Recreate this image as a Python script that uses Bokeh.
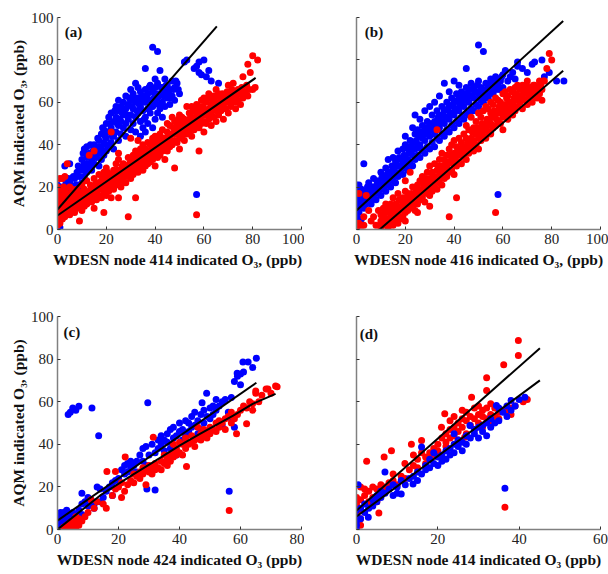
from bokeh.plotting import figure
from bokeh.layouts import gridplot
from bokeh.models import Range1d, FixedTicker
from bokeh.core.properties import value
from bokeh.embed import file_html
from bokeh.resources import INLINE

# ---------------- data ----------------
a_blue = [(0,0),(0,2),(0,4),(0,6),(0,9),(0,12),(0,15),(0,18),(0,21),(1,1),(1,5),(1,10),(1,14),(1,17),(2,8),(2,13),(2,20),(0,3),
          (3,12),(3,16),(3,30),(4,14),(4,19),(5,31),(5,17),(5,22),(6,15),(6,20),(7,18),(7,24),(8,21),(8,27),(9,19),(9,25),
          (10,22),(10,28),(10,33),(11,25),(11,31),(11,38),(12,27),(12,34),(12,39),(13,30),(13,36),(14,28),(14,33),(15,31),(15,38),(15,40),
          (16,34),(16,39),(17,30),(17,36),(17,42),(18,33),(18,38),(18,45),(19,35),(19,41),(19,47),(20,37),(20,43),(20,50),(20,40),
          (21,39),(21,46),(21,53),(22,41),(22,48),(22,55),(23,38),(23,44),(23,51),(24,46),(24,53),(24,58),(25,42),(25,49),(25,56),(25,61),
          (26,45),(26,51),(26,58),(27,48),(27,54),(27,60),(28,44),(28,50),(28,57),(28,63),(29,52),(29,59),(30,47),(30,54),(30,61),(30,66),
          (31,50),(31,57),(31,64),(32,69),(32,46),(32,53),(32,60),(33,55),(33,62),(33,67),(34,44),(34,51),(34,58),(34,65),(35,48),(35,56),(35,63),
          (36,76),(36,46),(36,53),(36,60),(36,66),(37,50),(37,57),(37,64),(38,55),(38,61),(38,68),(39,86),(39,48),(39,58),(39,65),(40,52),(40,60),(40,67),(40,71),
          (41,84),(41,55),(41,62),(41,69),(42,57),(42,64),(42,75),(43,53),(43,60),(43,67),(44,58),(44,65),(44,71),(45,62),(45,68),(46,59),(46,66),
          (47,63),(47,70),(48,61),(48,67),(49,69),(50,64),
          (52,79),(53,80),(56,76),(57,77),(58,79),(60,80),(59,73),(61,72),(63,70),(66,69),(62,75),(57,16.5),(58,74),
          (0.5,8),(1.5,12),(0.5,16),(2.5,16),(3.5,22),(4.5,24),(6.5,25),(7.5,21),(8.5,30),(9.5,29),(10.5,36),(11.5,28),(12.5,31),
          (13.5,40),(14.5,37),(15.5,35),(16.5,43),(17.5,39),(18.5,48),(19.5,44),(20.5,46),(21.5,50),(22.5,44),(23.5,56),(24.5,50),
          (25.5,52),(26.5,55),(27.5,57),(28.5,54),(29.5,62),(30.5,58),(31.5,61),(32.5,56),(33.5,59),(34.5,61),(35.5,52),(36.5,63),
          (37.5,67),(38.5,58),(39.5,62),(40.5,64),(41.5,59),(42.5,67),(43.5,63),(44.5,68),(45.5,65),(46.5,62),(47.5,66),(48.5,70),(49.5,66)]
a_red = [(0,2),(0,5),(0,8),(0,11),(0,14),(0,17),(1,3),(1,7),(1,10),(1,13),(1,19),(2,5),(2,9),(2,12),(2,16),(0,20),(1,24),(2,24),
         (3,6),(3,10),(3,14),(4,8),(4,12),(4,17),(5,7),(5,11),(5,15),(6,9),(6,13),(6,19),(3,25),(4,31),(5,20),(3,18),
         (7,8),(7,12),(7,16),(8,10),(8,14),(8,19),(9,4),(9,12),(9,17),(10,9),(10,13),(10,16),(10,21),
         (11,11),(11,15),(11,19),(12,12),(12,17),(12,23),(13,14),(13,18),(13,35),(14,13),(14,16),(14,20),(15,10),(15,15),(15,19),(15,24),(15,37),
         (16,14),(16,18),(16,22),(17,16),(17,20),(17,26),(18,15),(18,19),(18,23),(19,8),(19,17),(19,21),(19,27),(20,16),(20,20),(20,24),(20,29),
         (21,18),(21,22),(21,26),(22,15),(22,20),(22,24),(22,46),(23,19),(23,23),(23,28),(24,21),(24,25),(24,31),(25,15),(25,22),(25,26),(25,36),(25,33),
         (26,20),(26,24),(26,28),(27,23),(27,27),(27,31),(28,22),(28,26),(28,30),(29,6),(29,25),(29,29),(29,34),(30,24),(30,28),(30,32),(30,43),
         (31,26),(31,30),(31,35),(32,15),(32,28),(32,32),(32,37),(33,27),(33,31),(33,42),(34,29),(34,33),(34,38),(35,28),(35,32),(35,36),(35,40),
         (36,30),(36,34),(36,38),(37,31),(37,35),(37,41),(38,32),(38,36),(38,40),(39,33),(39,38),(39,43),(40,30),(40,35),(40,39),(40,44),
         (41,34),(41,38),(41,42),(42,35),(42,40),(42,45),(43,37),(43,41),(43,47),(44,33),(44,38),(44,43),(45,37),(45,41),(45,46),(45,50),
         (46,39),(46,44),(46,49),(47,40),(47,45),(47,53),(48,29),(48,42),(48,47),(48,51),(49,41),(49,46),(49,50),(50,38),(50,43),(50,48),(50,54),
         (51,44),(51,49),(51,53),(52,42),(52,47),(52,52),(53,45),(53,50),(53,58),(54,46),(54,51),(54,55),(55,44),(55,49),(55,53),(55,58),
         (56,47),(56,52),(56,57),(57,7),(57,49),(57,54),(57,59),(58,37),(58,48),(58,53),(58,58),(59,50),(59,55),(59,61),(60,46),(60,51),(60,56),(60,62),
         (61,50),(61,55),(61,60),(62,52),(62,57),(62,64),(63,49),(63,54),(63,59),(64,53),(64,58),(64,63),(65,51),(65,56),(65,60),(65,66),
         (66,54),(66,59),(66,64),(67,56),(67,61),(68,52),(68,58),(68,63),(69,57),(69,62),(70,55),(70,60),(70,68),(71,58),(71,64),(72,69),
         (72,60),(73,57),(73,63),(74,61),(74,66),(75,59),(75,64),(76,62),(76,72),(77,65),(78,63),(78,78),(79,74),(80,82),(82,80),(80,66),(81,67),
         (0.5,6),(1.5,15),(2.5,20),(3.5,12),(4.5,10),(5.5,17),(6.5,11),(7.5,14),(8.5,16),(9.5,11),(10.5,18),(11.5,13),(12.5,15),
         (13.5,21),(14.5,18),(15.5,21),(16.5,16),(17.5,22),(18.5,25),(19.5,19),(20.5,27),(21.5,20),(22.5,26),(23.5,21),(24.5,28),
         (25.5,24),(26.5,30),(27.5,25),(28.5,28),(29.5,31),(30.5,26),(31.5,33),(32.5,30),(33.5,35),(34.5,31),(35.5,38),(36.5,32),
         (37.5,37),(38.5,34),(39.5,41),(40.5,37),(41.5,44),(42.5,38),(43.5,43),(44.5,40),(45.5,44),(46.5,42),(47.5,48),(48.5,45),
         (49.5,52),(50.5,46),(51.5,51),(52.5,50),(53.5,48),(54.5,53),(55.5,56),(56.5,50),(57.5,57),(58.5,52),(59.5,58),(60.5,54),
         (61.5,62),(62.5,55),(63.5,61),(64.5,57),(65.5,63),(66.5,57),(67.5,64),(68.5,60),(69.5,65),(70.5,62),(71.5,66),(72.5,63),
         (73.5,60),(74.5,64),(75.5,67),(76.5,65),(77.5,68),(78.5,66)]
a_blue_fit = [(0,9.4),(65.3,95.8)]
a_red_fit = [(0,6.6),(81.2,71.5)]

b_blue = [(0,0),(0,3),(0,6),(0,9),(0,12),(0,15),(0,18),(0,21),(1,2),(1,8),(1,13),(1,17),(2,5),(2,11),(2,15),(1,21),(2,19),
          (3,10),(3,14),(3,18),(3,31),(4,12),(4,16),(5,13),(5,18),(5,22),(6,12),(6,17),(7,15),(7,20),(7,24),(8,14),(8,19),(9,17),(9,23),
          (10,16),(10,21),(10,27),(11,19),(11,24),(12,18),(12,23),(12,29),(13,21),(13,27),(13,33),(14,20),(14,25),(15,23),(15,28),(15,34),
          (16,22),(16,27),(16,32),(17,25),(17,30),(17,37),(18,27),(18,33),(19,26),(19,31),(19,38),(20,29),(20,34),(20,40),(20,44),
          (21,28),(21,33),(21,39),(22,31),(22,36),(22,42),(23,30),(23,35),(23,41),(23,48),(24,33),(24,38),(24,45),(24,54),(25,35),(25,40),(25,47),
          (26,34),(26,40),(26,46),(26,52),(27,37),(27,43),(27,49),(28,36),(28,42),(28,48),(28,56),(29,39),(29,45),(29,51),(30,38),(30,44),(30,50),(30,58),
          (31,41),(31,47),(31,54),(32,39),(32,45),(32,51),(32,60),(33,43),(33,49),(33,56),(34,42),(34,48),(34,54),(34,63),(35,45),(35,51),(35,58),
          (36,44),(36,50),(36,56),(36,69),(37,47),(37,53),(37,60),(38,46),(38,52),(38,58),(38,65),(39,49),(39,55),(39,62),(40,48),(40,54),(40,60),(40,70),
          (41,51),(41,57),(41,64),(42,50),(42,56),(42,62),(42,68),(43,53),(43,59),(43,65),(44,52),(44,58),(44,64),(45,55),(45,61),(45,67),(45,76),
          (46,54),(46,60),(46,66),(47,57),(47,63),(47,69),(48,56),(48,62),(48,67),(49,59),(49,65),(50,58),(50,64),(50,70),(50,87),
          (51,61),(51,67),(52,60),(52,66),(52,84),(53,63),(53,69),(54,62),(54,68),(55,46),(55,65),(55,71),(56,64),(56,69),(57,66),(57,72),
          (58,16.5),(58,68),(59,70),(60,67),(60,73),(61,75),
          (62,70),(63,72),(64,74),(65,71),(66,77),(66,79),(68,76),(70,74),(72,78),(73,79),(76,80),(77,72),(79,74),(82,70),(85,70),
          (0.5,5),(0.5,14),(1.5,10),(2.5,13),(3.5,16),(4.5,20),(5.5,15),(6.5,20),(7.5,18),(8.5,22),(9.5,20),(10.5,25),(11.5,22),
          (12.5,26),(13.5,24),(14.5,30),(15.5,26),(16.5,30),(17.5,34),(18.5,30),(19.5,35),(20.5,32),(21.5,37),(22.5,39),(23.5,38),
          (24.5,42),(25.5,44),(26.5,38),(27.5,46),(28.5,45),(29.5,48),(30.5,47),(31.5,50),(32.5,48),(33.5,53),(34.5,51),(35.5,54),
          (36.5,53),(37.5,57),(38.5,55),(39.5,59),(40.5,57),(41.5,61),(42.5,59),(43.5,62),(44.5,61),(45.5,64),(46.5,63),(47.5,66),
          (48.5,65),(49.5,68),(50.5,62),(51.5,65),(52.5,63),(53.5,66),(54.5,65),(55.5,68),(56.5,67),(57.5,70),(58.5,66),(59.5,72)]
b_red = [(0,1),(1,3),(2,2),(1,17),(3,6),(4,16),(5,9),(6,4),(7,6),(9,9),(8,2),(3,2),
         (10,1),(10,4),(10,7),(11,2),(11,6),(11,10),(12,3),(12,8),(12,12),(13,1),(13,5),(13,9),(14,3),(14,7),(14,12),(15,2),(15,6),(15,10),(15,15),
         (16,4),(16,8),(16,12),(17,3),(17,7),(17,11),(17,17),(18,5),(18,9),(18,14),(19,6),(19,10),(19,15),(20,4),(20,8),(20,12),(20,18),(20,23),
         (21,9),(21,13),(21,17),(22,10),(22,14),(22,27),(23,11),(23,15),(23,20),(24,9),(24,13),(24,17),(25,12),(25,16),(25,21),(25,8),
         (26,14),(26,18),(26,23),(27,15),(27,19),(27,25),(28,13),(28,18),(28,22),(29,17),(29,21),(29,27),(30,11),(30,16),(30,20),(30,24),(30,30),
         (31,18),(31,22),(31,27),(32,20),(32,25),(32,31),(33,19),(33,23),(33,28),(33,47),(34,22),(34,27),(34,33),(35,21),(35,26),(35,30),(35,36),
         (36,24),(36,28),(36,33),(37,25),(37,30),(37,35),(38,6),(38,27),(38,32),(38,38),(39,28),(39,33),(39,40),(40,26),(40,31),(40,36),(40,42),
         (41,15),(41,30),(41,35),(41,39),(42,32),(42,37),(42,43),(43,31),(43,36),(43,41),(44,34),(44,39),(44,45),(45,33),(45,38),(45,43),(45,49),
         (46,36),(46,41),(46,47),(47,38),(47,43),(47,53),(48,37),(48,42),(48,48),(49,40),(49,45),(49,51),(50,38),(50,43),(50,48),(50,55),
         (51,42),(51,47),(51,53),(52,44),(52,49),(52,56),(53,43),(53,48),(53,58),(54,46),(54,51),(54,57),(55,45),(55,50),(55,55),(55,60),
         (56,48),(56,53),(56,59),(57,8),(57,49),(57,55),(57,62),(58,51),(58,56),(58,61),(59,50),(59,55),(59,60),(60,47),(60,53),(60,58),(60,64),
         (61,54),(61,59),(61,65),(62,52),(62,57),(62,63),(63,55),(63,60),(63,66),(64,54),(64,59),(64,65),(65,56),(65,61),(65,67),
         (66,58),(66,63),(66,68),(67,60),(67,66),(68,57),(68,62),(68,68),(69,61),(69,66),(70,59),(70,64),(70,70),(71,62),(71,67),
         (72,60),(72,65),(73,63),(73,68),(74,62),(74,67),(75,64),(75,70),(76,61),(76,66),(77,70),(78,76),(79,83),(80,80),
         (10.5,3),(11.5,8),(12.5,5),(13.5,11),(14.5,9),(15.5,4),(16.5,10),(17.5,14),(18.5,11),(19.5,13),(20.5,15),(21.5,11),
         (22.5,17),(23.5,13),(24.5,19),(25.5,18),(26.5,16),(27.5,21),(28.5,24),(29.5,19),(30.5,22),(31.5,25),(32.5,23),(33.5,30),
         (34.5,25),(35.5,28),(36.5,31),(37.5,28),(38.5,35),(39.5,31),(40.5,34),(41.5,37),(42.5,35),(43.5,39),(44.5,37),(45.5,41),
         (46.5,39),(47.5,46),(48.5,40),(49.5,48),(50.5,45),(51.5,50),(52.5,47),(53.5,52),(54.5,49),(55.5,53),(56.5,56),(57.5,52),
         (58.5,58),(59.5,57),(60.5,56),(61.5,62),(62.5,60),(63.5,58),(64.5,62),(65.5,64),(66.5,61),(67.5,63),(68.5,65),(69.5,68),
         (70.5,62),(71.5,65),(72.5,68),(73.5,66),(74.5,65),(75.5,68),(76.5,70)]
b_blue_fit = [(0,9.0),(84.7,98.4)]
b_red_fit = [(9.5,0),(84.7,74.9)]

c_blue = [(0,0),(0,2),(0,4),(1,1),(1,3),(1,6),(2,2),(2,5),(1,8),(0,7),(2,8),(3,2),(3,5),(3,9),(4,4),(4,7),(5,3),(5,8),(6,6),(6,2),
          (7,5),(7,9),(8,7),(8,12),(8,17),(9,13),(10,11),(10,15),(11,14),(12,10),(12,12),(13,20),(14,13),(14,19),(15,15),(16,18),
          (17,20),(18,22),(18,16),(19,23),(20,24),(21,28),(22,26),(22,30),(23,27),(23,31),(24,29),(24,32),(25,27),(25,30),(26,32),(26,27),
          (27,35),(28,32),(28,38),(29,39),(29,30),(30,35),(29.6,59.5),(29.3,19),(31,40),(32,18.6),(32,36),(33,38),(33,42),(34,40),(34,44),
          (35,37),(35,42),(36,41),(36,45),(37,38),(37,47),(38,43),(38,48),(39,44),(39,35),(40,46),(40,50),(41,42),(41,47),(42,44),(42,51),
          (43,46),(43,50),(44,53),(44,48),(45,49),(45,55),(46,51),(46,45),(47,47),(47,54),(48,50),(48,56),(48.9,64),(49,53),(47.4,59.5),
          (50,57),(50,52),(51,58),(51,54),(52,56),(52,61),(53,58),(54,60),(55,61),(54,49),(56.3,18),(56,55),(57,62),(58,69.5),(58.9,73.4),
          (59,72),(60,73),(60,68),(61,74),(60.8,78.6),(62.5,78.6),(64,76),(65.2,80.4),(57,52),(58,48),
          (3.5,54),(4.2,55),(5,57),(6,56),(7,57.9),(11.3,57),(13.5,44)]
c_red = [(2,1),(3,0),(3,2),(4,1),(4,3),(5,0),(5,2),(5,4),(6,1),(6,3),(7,2),(7,5),(8,4),(6,6),(9,6),(10,8),(11,14),(12,10),(13,13),
         (15,12),(16,10),(16.2,27.2),(19,27.2),(18,16),(19,19),(20,20),(21,22),(21,15),(22.2,34),(22,18),(23,21),(24,23),(25,22),(25,26),
         (26,25),(27,24),(27,27),(28,26),(28,29),(29,21),(29,28),(30,27),(30,30),(31,29),(31,26),(32,31),(32,28),(33,29),(31.4,43.3),
         (34,32),(34,28),(35,31),(35,35),(36,33),(36,30),(37,35),(37,32),(38,36),(38,34),(38,40),(39,35),(39,38),(40,36),(40,41),
         (41,40),(41,35),(42,38),(42,43),(43,40),(42.3,29.6),(44,41),(44,44),(45,42),(45,39),(46,43),(46,48),(47,42),(47,45),(48,44),
         (48,47),(49,46),(49,43),(50,45),(50,48),(51,47),(52,46),(52,50),(53,48),(53,51),(54,50),(55,52),(55,47),(56,53),(56.3,8.9),
         (57,50),(57,55),(58,52),(58.7,45),(59,54),(60,56),(61,58),(62,49.6),(62,57),(63,60),(64,56),(64,59),(65,65),(65,64),(66,60),
         (67,63),(68.4,66),(69,66),(70,64),(71.5,67.4),(72,67)]
c_blue_fit = [(0,4.2),(65.2,68.9)]
c_red_fit = [(0,0),(14,16),(25,26),(31.4,31.6),(40,39.4),(46.7,44.9),(57.6,53.5),(64,59),(71.5,63.7)]

d_blue = [(0,0),(0,2),(0,4),(0,6),(0,9),(1,5),(1,10),(0.4,21),(2,8),(2,12),(3,10),(2.9,5.8),(4,14),(4,11),(5,13),(5,16),(6,15),(6,18),
          (7,17),(7,27),(8,19),(9,21),(9,16),(10,20),(10,17),(11,23),(11,16.7),(12,21),(13,24),(13.9,21.4),(14,25),(15,27),(15,23),(16,26),
          (17,30),(17,28),(18,29),(18,33),(19,31),(20,34),(20,30),(21,35),(21,32),(22,37),(22,33),(23,38),(23,35),(24,40),(24,36),
          (25,42),(25,39),(26,41),(26,37),(27,44),(27,40),(28,43),(27.9,48.8),(29,45),(29,47),(30,43),(30,48),(31,49),(31,46),(32,50),
          (32,44),(33,52),(33,48),(34.4,58.2),(34,50),(35,51),(35,57),(36,55),(36.5,19.4),(37,58),(37,53),(38,56),(38,60.6),(39,58),
          (40,61),(41.4,62.1),(16,38.7),(19,36),(24,45)]
d_red = [(0,0),(0,1),(0,2),(0,3),(0,4),(0,5),(0,6),(0,8),(0,10),(0,12),(0,15),(1,2),(1,5),(1,9),(1,14),(1,20),(2,19),(2,16),(2.5,32),
         (3,13),(3,18),(4,15),(4,20),(5,13),(5,19),(5.5,7.7),(6,17),(6,21),(7,20),(6.8,34),(8,22),(8.6,37),(9,23),(9,26),(10,21),(11,25),
         (11.9,31),(12,24),(13,28),(13.5,40),(14,30),(14,35),(15,29),(15,33),(16,41.8),(16,36),(17,34),(17,31),(18,36),(18,33),(19,38),
         (19,35),(20,40),(20,37),(20.9,48),(21.7,54.3),(21,43),(22,41),(22,45),(22,39),(23,47),(23,43),(23,51),(24,44),(24,48),(24,53),
         (25,46),(25,50),(25,42),(26,48),(26,52),(26,56),(26.6,43.3),(27,45),(27,51),(27,55),(28,49),(28,53),(28.3,62.1),(29,47),(29,52),
         (29,57),(30,50),(30,54),(30,58),(31,48),(31,53),(31,56),(32,65.3),(32,71.2),(32,52),(32,57),(33,54),(33,59),(33,50),(34,53),
         (34,57),(35,55),(35,52),(36.2,77.3),(36,56),(36.5,10.5),(37,55),(38,57),(39,58),(39.8,81.7),(39.8,88.7),(41,60),(42,61),(38,54)]
d_red_fit = [(0,8.9),(45.1,85.1)]
d_blue_fit = [(0,6.1),(45.1,70.0)]

x_ticks_ab = [0, 20, 40, 60, 80, 100]
x_ticks_c = [0, 20, 40, 60, 80]
x_ticks_d = [0, 20, 40, 60]
y_ticks = [0, 20, 40, 60, 80, 100]

BLUE = "#0000ff"
RED = "#ff0000"
SERIF = "Liberation Serif"


def xs(pts):
    return [p[0] for p in pts]


def ys(pts):
    return [p[1] for p in pts]


def panel(xmax, xticks, first, second, fits, tag, tag_xy, xlabel, ylabel, borders):
    left, right, top, bottom = borders
    p = figure(width=304, height=287, x_range=Range1d(0, xmax), y_range=Range1d(0, 100),
               output_backend="svg", toolbar_location=None,
               min_border_left=left, min_border_right=right,
               min_border_top=top, min_border_bottom=bottom)
    p.grid.visible = False
    p.outline_line_color = None
    p.background_fill_color = "white"
    p.border_fill_color = "white"
    for pts, col in (first, second):
        p.scatter(xs(pts), ys(pts), size=7, fill_color=col, line_color=None)
    for f in fits:
        p.line(xs(f), ys(f), line_color="black", line_width=2)
    p.text(x=[tag_xy[0]], y=[tag_xy[1]], text=[tag], text_font=value(SERIF),
           text_font_style="bold", text_font_size="15px", text_align="left",
           text_baseline="middle", text_color="#111111")
    for ax, ticks in ((p.xaxis, xticks), (p.yaxis, y_ticks)):
        ax.ticker = FixedTicker(ticks=ticks)
        ax.axis_line_color = "#808080"
        ax.axis_line_width = 1.5
        ax.major_tick_line_color = "#333333"
        ax.major_tick_in = 3
        ax.major_tick_out = 0
        ax.minor_tick_line_color = None
        ax.major_label_text_font = SERIF
        ax.major_label_text_font_size = "15px"
        ax.major_label_text_color = "#222222"
        ax.axis_label_text_font = SERIF
        ax.axis_label_text_font_style = "bold"
        ax.axis_label_text_font_size = "15.5px"
        ax.axis_label_text_color = "#111111"
    p.xaxis.major_label_standoff = 4
    p.xaxis.axis_label_standoff = 4
    p.xaxis.axis_label = xlabel
    p.yaxis.major_label_standoff = 4
    p.yaxis.axis_label_standoff = 1
    if ylabel:
        p.yaxis.axis_label = ylabel
    else:
        p.yaxis.major_label_overrides = {t: "" for t in y_ticks}
    return p


ylab = "AQM indicated O\u2083, (ppb)"
pa = panel(100, x_ticks_ab, (a_blue, BLUE), (a_red, RED), [a_blue_fit, a_red_fit], "(a)", (3, 93),
           "WDESN node 414  indicated O\u2083, (ppb)", ylab, (57, 3, 17, 58))
pb = panel(100, x_ticks_ab, (b_blue, BLUE), (b_red, RED), [b_blue_fit, b_red_fit], "(b)", (3.4, 93),
           "WDESN node 416 indicated O\u2083, (ppb)", None, (52, 8, 17, 58))
pc = panel(80, x_ticks_c, (c_blue, BLUE), (c_red, RED), [c_blue_fit, c_red_fit], "(c)", (2, 92.6),
           "WDESN node 424 indicated O\u2083 (ppb)", ylab, (57, 3, 29, 45))
pd = panel(60, x_ticks_d, (d_red, RED), (d_blue, BLUE), [d_red_fit, d_blue_fit], "(d)", (0.8, 91.8),
           "WDESN node 414 indicated O\u2083 (ppb)", None, (52, 8, 29, 45))

grid = gridplot([[pa, pb], [pc, pd]], toolbar_location=None)
open("out.html", "w").write(file_html(grid, INLINE))
